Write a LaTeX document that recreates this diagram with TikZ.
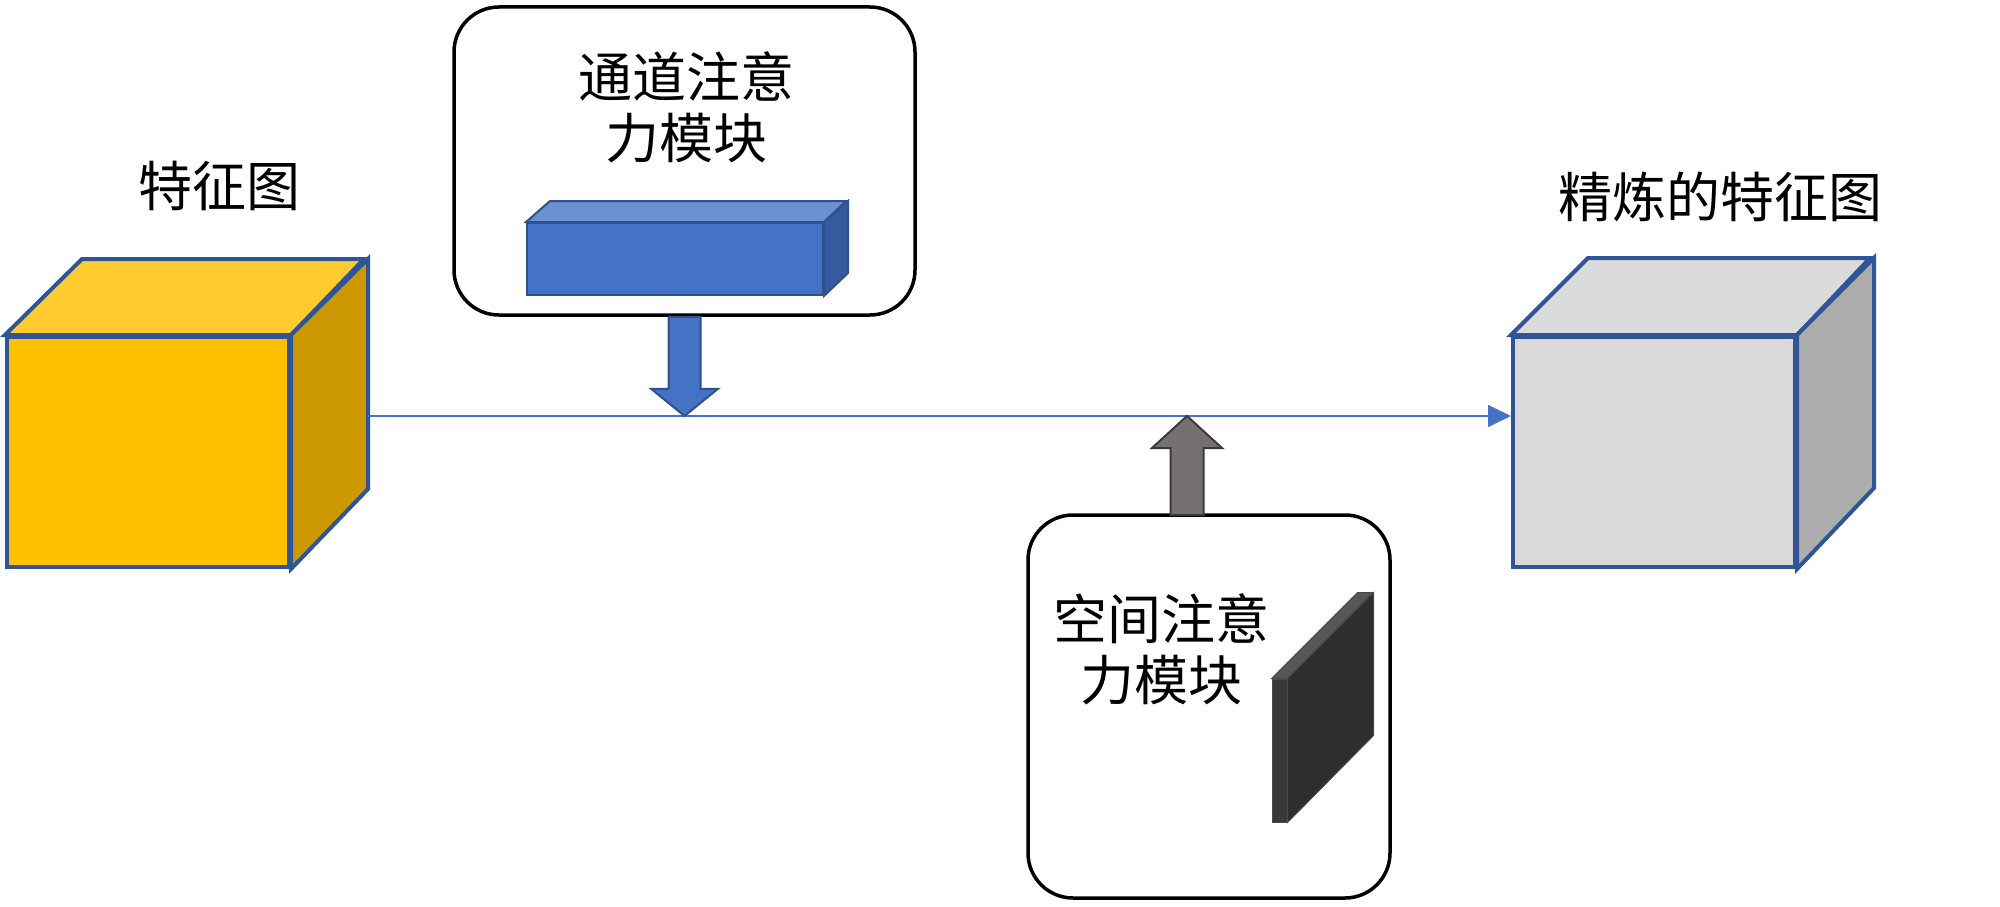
\documentclass[tikz,border=0pt]{standalone}
\usepackage{fontspec}
\newfontfamily\cjk{Noto Sans CJK SC}
\usetikzlibrary{calc,arrows.meta}
\definecolor{edgeblue}{HTML}{2F5597}
\definecolor{yfront}{HTML}{FFC000}
\definecolor{ytop}{HTML}{FFCB2E}
\definecolor{yside}{HTML}{CC9A00}
\definecolor{gfront}{HTML}{D9D9D9}
\definecolor{gtop}{HTML}{DBDBDB}
\definecolor{gside}{HTML}{ADADAD}
\definecolor{bfront}{HTML}{4472C4}
\definecolor{btop}{HTML}{6C90D0}
\definecolor{bside}{HTML}{365C9F}
\definecolor{bedge}{HTML}{2F528F}
\definecolor{sfront}{HTML}{3B3838}
\definecolor{stop}{HTML}{575757}
\definecolor{sside}{HTML}{2E2E2E}
\definecolor{sedge}{HTML}{4A4A4A}
\definecolor{garrow}{HTML}{767171}
\definecolor{garrowedge}{HTML}{3A3A3A}
\definecolor{linkblue}{HTML}{4472C4}
\tikzset{
  cubeedge/.style={draw=edgeblue, line width=4pt, line join=miter},
  modbox/.style={draw=black, line width=3.5pt, rounded corners=45pt, fill=white, inner sep=0pt},
  lbl/.style={font=\cjk\fontsize{54}{61}\selectfont, align=center, inner sep=0pt},
  mainline/.style={draw=linkblue, line width=1.5pt, -{Triangle[length=23pt,width=22pt]}},
  facenode/.style={inner sep=0pt, line join=miter},
}
\begin{document}
\begin{tikzpicture}[x=1pt,y=-1pt]
\useasboundingbox (0,0) rectangle (2000,907);
% left cube
\node[facenode, cubeedge, fill=yfront, minimum width=282pt, minimum height=230pt] (lfront) at (148,452) {};
\draw[cubeedge, fill=ytop] (lfront.north west) -- ++(77,-76) -- ++(282,0) -- (lfront.north east) -- cycle;
\draw[cubeedge, fill=yside] (lfront.north east) -- ++(77,-76) -- ++(0,230) -- (lfront.south east) -- cycle;
\node[lbl] (llbl) at (219,186) {特征图};
% right cube
\node[facenode, cubeedge, fill=gfront, minimum width=282pt, minimum height=230pt] (rfront) at (1654,452) {};
\draw[cubeedge, fill=gtop] (rfront.north west) -- ++(77,-77) -- ++(282,0) -- (rfront.north east) -- cycle;
\draw[cubeedge, fill=gside] (rfront.north east) -- ++(77,-77) -- ++(0,230) -- (rfront.south east) -- cycle;
\node[lbl] (rlbl) at (1720,197) {精炼的特征图};
% main line
\coordinate (src) at (368,416);
\draw[mainline] (src) -- (src -| rfront.west);
% channel attention box
\node[modbox, minimum width=461pt, minimum height=308pt] (cbox) at (684.5,161) {};
\node[lbl] (clbl) at (686,107) {通道注意\\力模块};
\node[facenode, draw=bedge, line width=2pt, fill=bfront, minimum width=296pt, minimum height=72pt] (bar) at (675,259) {};
\draw[draw=bedge, line width=2pt, fill=btop, line join=miter] (bar.north west) -- ++(24,-21) -- ++(296,0) -- (bar.north east) -- cycle;
\draw[draw=bedge, line width=2pt, fill=bside, line join=miter] (bar.north east) -- ++(24,-21) -- ++(0,72) -- (bar.south east) -- cycle;
% channel arrow
\coordinate (ctip) at (cbox.south |- src);
\draw[draw=bedge, line width=2pt, fill=bfront, line join=miter]
  ($(cbox.south)+(-16,0)$) -- ++(0,72) -- ++(-17.5,0) -- (ctip) -- ($(cbox.south)+(33.5,72)$) -- ++(-17.5,0) -- ($(cbox.south)+(16,0)$) -- cycle;
% spatial attention box
\node[modbox, minimum width=362pt, minimum height=383pt] (sbox) at (1209,706.5) {};
\node[lbl] (slbl) at (1161,649) {空间注意\\力模块};
\node[facenode, draw=sedge, line width=1pt, fill=sfront, minimum width=15pt, minimum height=143pt] (slab) at (1279.5,750.5) {};
\draw[draw=sedge, line width=1pt, fill=stop, line join=miter] (slab.north west) -- ++(86,-86) -- ++(15,0) -- (slab.north east) -- cycle;
\draw[draw=sedge, line width=1pt, fill=sside, line join=miter] (slab.north east) -- ++(86,-86) -- ++(0,143) -- (slab.south east) -- cycle;
% spatial arrow
\coordinate (sbase) at (1187,515);
\coordinate (stip) at (1187,416);
\draw[draw=garrowedge, line width=2pt, fill=garrow, line join=miter]
  ($(sbase)+(-16.5,0)$) -- ++(0,-67) -- ++(-18.5,0) -- (stip) -- ($(sbase)+(35,-67)$) -- ++(-18.5,0) -- ($(sbase)+(16.5,0)$) -- cycle;
\end{tikzpicture}
\end{document}
